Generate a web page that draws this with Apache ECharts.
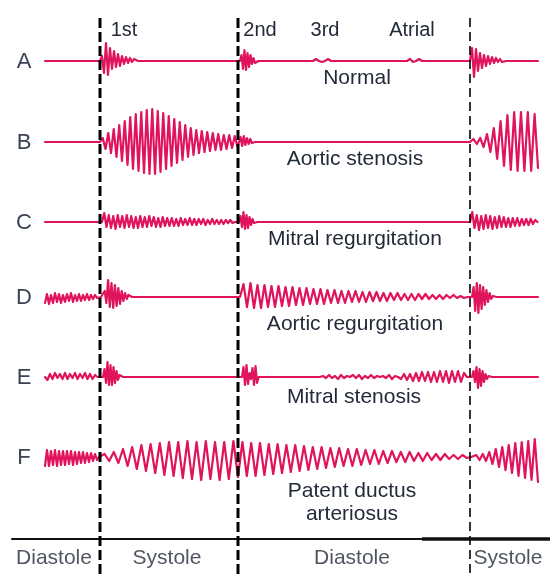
<!DOCTYPE html>
<html>
<head>
<meta charset="utf-8">
<script src="https://cdn.jsdelivr.net/npm/echarts@6/dist/echarts.min.js"></script>
<style>
  html, body { margin: 0; padding: 0; background: #fff; }
  #chart { width: 550px; height: 575px; }
</style>
</head>
<body>
<div id="chart"></div>
<script>
// Phonocardiogram traces. Time runs along x (arbitrary units), amplitude on y.
// Each trace is a list of sound bursts: [start time, sample spacing, amplitudes].
// Between bursts the trace rests on its baseline.

const rowLetters = ['A', 'B', 'C', 'D', 'E', 'F'];
const rowNames = ['Normal', 'Aortic stenosis', 'Mitral regurgitation',
                  'Aortic regurgitation', 'Mitral stenosis', 'Patent ductus\narteriosus'];
const soundLabels = ['1st', '2nd', '3rd', 'Atrial'];
const phaseNames = ['Diastole', 'Systole', 'Diastole', 'Systole'];
const phaseBounds = [-33, 55, 193, 425, 505];
const markerTimes = [55, 193, 425];
const traceEnd = 493;

const traceNormal = [
  [55, 2, [0, 5, -12, 18, -14, 13, -8, 10, -6, 7, -5, 5, -3, 4, -2, 3, -1, 2, 0]],
  [195, 1.5, [0, 6, -8, 11, -9, 8, -6, 6, -3, 3, -2, 0]],
  [268, 3, [0, 2, 0, -1, 0, 2, 0]],
  [362, 3, [0, 2, -1, 0, 2, 0]],
  [425, 2, [0, 13, -16, 12, -10, 8, -7, 6, -5, 5, -3, 4, -2, 3, -1, 2, -1, 1, 0]]
];

const traceAorticStenosis = [
  [55, 2.75, [0, 4, -7, 9, -11, 13, -15, 17, -19, 21, -23, 25, -27, 28, -29, 30, -31, 32, -32, 33,
              -32, 31, -30, 29, -27, 26, -24, 23, -21, 20, -18, 17, -15, 14, -13, 12, -11, 11, -10, 10,
              -9, 9, -8, 8, -8, 7, -7, 7, -6, 6, -5]],
  [194, 1.6, [-3, 5, -4, 6, -3, 4, -2, 3, -1, 1, 0]],
  [425, 3.4, [0, 3, -2, 4, -5, 8, -10, 14, -17, 21, -24, 27, -28, 30, -29, 30, -29, 30, -29, 28, -26]]
];

const traceMitralRegurg = [
  [57, 2.25, [0, 9, -5, 7, -6, 6, -7, 7, -5, 6, -6, 7, -5, 6, -6, 5, -6, 6, -5, 5,
              -5, 6, -4, 5, -5, 4, -5, 5, -4, 4, -4, 4, -4, 3, -4, 4, -3, 3, -3, 4,
              -3, 3, -3, 3, -2, 3, -3, 2, -2, 3, -2, 2, -2, 2, -2, 2, -1, 2, -1, 0]],
  [194, 1.5, [0, 6, -5, 10, -7, 7, -6, 5, -3, 3, -1, 0]],
  [425, 2.25, [0, 10, -6, 7, -8, 6, -7, 7, -6, 6, -7, 5, -6, 6, -5, 5, -5, 4, -5, 4,
               -4, 4, -4, 3, -3, 3, -3, 3, -2, 2, 0]]
];

const traceAorticRegurg = [
  [0, 2, [-6, 3, -7, 2, -6, 4, -5, 3, -6, 2, -5, 3, -4, 4, -5, 2, -4, 3, -4, 2,
          -3, 3, -3, 2, -2, 2, -1, 0]],
  [58, 1.7, [0, 6, -6, 17, -10, 14, -11, 12, -9, 9, -7, 6, -4, 4, -2, 2, 0]],
  [195, 3.5, [0, 13, -10, 14, -11, 12, -11, 12, -10, 11, -10, 11, -9, 10, -9, 10, -8, 9, -8, 9,
              -7, 8, -7, 8, -7, 7, -6, 7, -6, 6, -6, 6, -5, 6, -5, 5, -5, 5, -4, 5,
              -4, 4, -4, 4, -3, 4, -3, 3, -3, 3, -3, 3, -2, 3, -2, 2, -2, 2, -2, 2,
              -1, 2, -1, 1, -1, 0]],
  [427, 1.6, [0, 10, -14, 14, -16, 12, -12, 10, -8, 7, -5, 4, -2, 1, 0]]
];

const traceMitralStenosis = [
  [0, 2.5, [0, -3, 3, -2, 4, -1, 3, -2, 4, -2, 3, -1, 4, -2, 3, -1, 4, -2, 3, -2, 2, 0]],
  [58, 1.5, [0, 8, -6, 15, -8, 12, -8, 10, -6, 6, -3, 2, 0]],
  [197, 1.5, [0, 10, -8, 12, -7, 4, -2, 9, -8, 11, -6, 0]],
  [275, 3, [0, 1, -1, 2, -1, 1, -2, 2, -1, 1, 0, 2, -1, 2, -2, 1, -1, 2, -1, 1,
            0, 1, -1, 2, -2, 1, 0, -2, 3, -3, 3, -4, 4, -4, 5, -4, 5, -5, 5, -5,
            6, -5, 6, -6, 6, -5, 6, -5, 4, 0]],
  [427, 1.5, [0, 6, -5, 10, -11, 8, -9, 6, -5, 3, -2, 1, 0]]
];

const tracePatentDuctus = [
  [0, 2, [-9, 7, -9, 6, -8, 7, -9, 6, -8, 6, -8, 6, -7, 6, -8, 5, -7, 5, -6, 5,
          -6, 4, -5, 4, -4, 3, -3, 0]],
  [55, 4.6, [0, 3, -4, 5, -6, 8, -9, 10, -12, 12, -14, 13, -16, 14, -18, 15, -19, 15, -21, 16,
             -22, 15, -23, 16, -22, 15, -23, 15, -22, 16, -20]],
  [197.4, 4.4, [15, -19, 14, -19, 14, -18, 13, -17, 13, -16, 12, -15, 12, -14, 11, -13, 10, -12, 10, -11,
                9, -10, 9, -9, 8, -9, 8, -8, 7, -7, 7, -7, 6, -6, 6, -5, 5, -5, 5, -4,
                4, -4, 4, -3, 3, -3, 3, -2, 2, -2, 2, -1, 0]],
  [428, 3.25, [0, 2, -3, 3, -4, 5, -7, 8, -10, 10, -13, 12, -16, 14, -19, 15, -21, 16, -23, 18, -25]]
];

const traces = [traceNormal, traceAorticStenosis, traceMitralRegurg,
                traceAorticRegurg, traceMitralStenosis, tracePatentDuctus];

// Expand the bursts into [time, amplitude] points; each burst that returns
// to rest gets an extra baseline point so the quiet stretch stays level.
function buildTrace(bursts) {
  const pts = [];
  if (bursts[0][0] > 0) pts.push([0, 0]);
  bursts.forEach(([t0, dt, amps]) => {
    amps.forEach((a, i) => pts.push([+(t0 + i * dt).toFixed(2), a]));
    const last = pts[pts.length - 1];
    if (last[1] === 0 && last[0] + 2 < traceEnd) pts.push([+(last[0] + 2).toFixed(2), 0]);
  });
  if (pts[pts.length - 1][0] < traceEnd) pts.push([traceEnd, 0]);
  return pts;
}

// ---- layout ----
const traceColor = '#e0145c';
const textColor = '#232a38';
const letterColor = '#3a4352';
const fontFamily = '"Liberation Sans", Arial, Helvetica, sans-serif';
const rowCenters = [61, 142, 222, 297, 377, 457];
const rowHalf = 40;
const xRange = { min: phaseBounds[0], max: phaseBounds[phaseBounds.length - 1] };

const grids = [], xAxes = [], yAxes = [], series = [];

rowCenters.forEach((c, i) => {
  grids.push({ left: 12, right: 0, top: c - rowHalf, height: rowHalf * 2, outerBoundsMode: 'none' });
  xAxes.push({ gridIndex: i, type: 'value', min: xRange.min, max: xRange.max, show: false });
  yAxes.push({ gridIndex: i, type: 'value', min: -rowHalf, max: rowHalf, show: false });
  series.push({
    type: 'line', xAxisIndex: i, yAxisIndex: i,
    data: buildTrace(traces[i]),
    showSymbol: false, silent: true, clip: false, sampling: null,
    lineStyle: { color: traceColor, width: 2.2, join: 'round', cap: 'round' }
  });
});

// Full-height grid for the dashed event markers.
const markerGrid = grids.length;
grids.push({ left: 12, right: 0, top: 18, bottom: 0, outerBoundsMode: 'none' });
xAxes.push({ gridIndex: markerGrid, type: 'value', min: xRange.min, max: xRange.max, show: false });
yAxes.push({ gridIndex: markerGrid, type: 'value', min: 0, max: 1, show: false });
markerTimes.forEach((t, i) => {
  const heavy = i < 2;
  series.push({
    type: 'line', xAxisIndex: markerGrid, yAxisIndex: markerGrid,
    data: [[t, 1], [t, 0]],
    showSymbol: false, silent: true,
    lineStyle: { color: '#000', width: heavy ? 3 : 1.6, type: heavy ? [10, 4] : [9, 5] }
  });
});

// Bottom band with the cardiac phase names.
const phaseGrid = grids.length;
grids.push({ left: 12, right: 0, top: 539, height: 36, outerBoundsMode: 'none' });
xAxes.push({
  gridIndex: phaseGrid, type: 'value', min: xRange.min, max: xRange.max, position: 'top',
  axisLine: { show: true, onZero: false, lineStyle: { color: '#111', width: 2 } },
  axisTick: { show: false }, axisLabel: { show: false }, splitLine: { show: false }
});
yAxes.push({ gridIndex: phaseGrid, type: 'value', min: 0, max: 1, show: false });
series.push({
  type: 'line', xAxisIndex: phaseGrid, yAxisIndex: phaseGrid,
  data: [[377, 1], [xRange.max, 1]],
  showSymbol: false, silent: true, clip: false,
  lineStyle: { color: '#111', width: 3.5 }
});
series.push({
  type: 'scatter', xAxisIndex: phaseGrid, yAxisIndex: phaseGrid,
  symbolSize: 0, silent: true,
  data: phaseNames.map((n, i) => [(phaseBounds[i] + phaseBounds[i + 1]) / 2, 0.47, n]),
  label: {
    show: true, position: 'inside', formatter: p => p.data[2],
    color: textColor, fontSize: 21, fontFamily: fontFamily, offset: [-2, 0]
  }
});

// Text: row letters, sound names and condition names.
const graphics = [];
rowLetters.forEach((l, i) => graphics.push({
  type: 'text', x: 24, y: rowCenters[i] + 1,
  style: { text: l, font: '22px ' + fontFamily, fill: letterColor, align: 'center', verticalAlign: 'middle' }
}));
const soundPos = [[124, 30], [260, 30], [325, 30], [412, 30]];
soundLabels.forEach((s, i) => graphics.push({
  type: 'text', x: soundPos[i][0], y: soundPos[i][1],
  style: { text: s, font: '20px ' + fontFamily, fill: textColor, align: 'center', verticalAlign: 'middle' }
}));
const namePos = [[357, 78], [355, 159], [355, 239], [355, 324], [354, 397], [352, 503]];
rowNames.forEach((n, i) => graphics.push({
  type: 'text', x: namePos[i][0], y: namePos[i][1],
  style: { text: n, font: '21px ' + fontFamily, lineHeight: 23, fill: textColor, align: 'center', verticalAlign: 'middle' }
}));

const chart = echarts.init(document.getElementById('chart'), null, { renderer: 'canvas' });
chart.setOption({
  animation: false,
  backgroundColor: '#fff',
  grid: grids,
  xAxis: xAxes,
  yAxis: yAxes,
  series: series,
  graphic: graphics
});
</script>
</body>
</html>
